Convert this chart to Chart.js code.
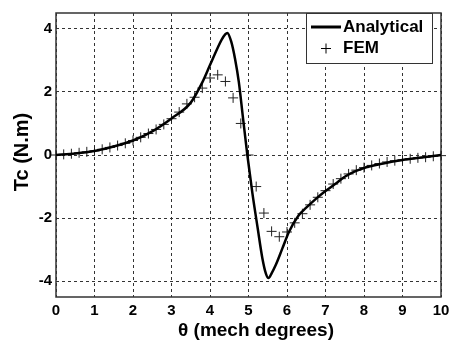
<!DOCTYPE html>
<html>
<head>
<meta charset="utf-8">
<script src="https://cdn.jsdelivr.net/npm/chart.js@4/dist/chart.umd.min.js"></script>
<style>
  html, body { margin: 0; padding: 0; background: #fff; }
  #wrap { width: 456px; height: 346px; }
</style>
</head>
<body>
<div id="wrap"><canvas id="torque" width="456" height="346"></canvas></div>
<script>
// analytical cogging torque curve
const analyticalX = [0, 0.5, 1.0, 1.5, 2.0, 2.5, 3.0, 3.5, 3.8, 4.0, 4.2, 4.3, 4.4, 4.45, 4.55, 4.65, 4.75, 4.85, 4.97,
                     5.1, 5.24, 5.36, 5.45, 5.52, 5.6, 5.71, 5.88, 6.05, 6.3, 6.5, 6.75, 7.0, 7.25, 7.5, 7.75, 8.0, 8.5, 9.0, 9.5, 10];
const analyticalY = [0, 0.05, 0.13, 0.27, 0.46, 0.75, 1.16, 1.66, 2.3, 2.85, 3.4, 3.65, 3.83, 3.87, 3.6, 3.05, 2.3, 1.25, 0,
                     -1.2, -2.33, -3.27, -3.75, -3.9, -3.75, -3.48, -2.96, -2.44, -1.92, -1.67, -1.39, -1.14, -0.92, -0.69, -0.53, -0.41, -0.27, -0.16, -0.08, 0];

// FEM samples
const femX = [0, 0.2, 0.4, 0.6, 0.8, 1.0, 1.2, 1.4, 1.6, 1.8, 2.0, 2.2, 2.4, 2.6, 2.8, 3.0, 3.2, 3.4, 3.6, 3.8,
              4.0, 4.2, 4.4, 4.6, 4.8, 5.0, 5.2, 5.4, 5.6, 5.8, 6.0, 6.2, 6.4, 6.6, 6.8, 7.0, 7.2, 7.4, 7.6, 7.8,
              8.0, 8.2, 8.4, 8.6, 8.8, 9.0, 9.2, 9.4, 9.6, 9.8, 10.0];
const femY = [0, 0.02, 0.04, 0.07, 0.1, 0.13, 0.18, 0.24, 0.3, 0.37, 0.46, 0.56, 0.68, 0.81, 0.97, 1.15, 1.36, 1.62, 1.83, 2.12,
              2.44, 2.54, 2.33, 1.81, 1.0, 0.0, -1.0, -1.84, -2.42, -2.59, -2.44, -2.15, -1.86, -1.58, -1.34, -1.13, -0.92, -0.75, -0.6, -0.48,
              -0.4, -0.33, -0.27, -0.22, -0.18, -0.15, -0.12, -0.09, -0.07, -0.04, -0.02];

const xTicks = [0, 1, 2, 3, 4, 5, 6, 7, 8, 9, 10];
const yTicks = [-4, -2, 0, 2, 4];

const FONT = "'Liberation Sans', Arial, sans-serif";

const framePlugin = {
    id: "frame",
    beforeDatasetsDraw(chart) {
        const { ctx, chartArea: a } = chart;
        ctx.save();
        ctx.strokeStyle = "#333";
        ctx.lineWidth = 1.5;
        ctx.strokeRect(a.left, a.top, a.right - a.left, a.bottom - a.top);
        ctx.restore();
    },
    afterDraw(chart) {
        const ctx = chart.ctx;
        ctx.save();
        ctx.fillStyle = "#000";
        // axis titles
        ctx.font = "bold 19px " + FONT;
        ctx.textAlign = "center";
        ctx.textBaseline = "middle";
        ctx.fillText("\u03b8 (mech degrees)", 256, 331);
        ctx.translate(22, 152);
        ctx.rotate(-Math.PI / 2);
        ctx.font = "bold 20px " + FONT;
        ctx.fillText("Tc (N.m)", 0, 0);
        ctx.restore();

        // legend box
        ctx.save();
        ctx.fillStyle = "#fff";
        ctx.fillRect(306, 13, 126, 50);
        ctx.strokeStyle = "#333";
        ctx.lineWidth = 1;
        ctx.strokeRect(306.5, 13.5, 126, 50);
        ctx.strokeStyle = "#000";
        ctx.lineWidth = 3;
        ctx.beginPath();
        ctx.moveTo(311, 27);
        ctx.lineTo(341, 27);
        ctx.stroke();
        ctx.lineWidth = 1;
        ctx.beginPath();
        ctx.moveTo(321, 48.5); ctx.lineTo(331, 48.5);
        ctx.moveTo(326, 43.5); ctx.lineTo(326, 53.5);
        ctx.stroke();
        ctx.fillStyle = "#000";
        ctx.font = "bold 17px " + FONT;
        ctx.textAlign = "left";
        ctx.textBaseline = "middle";
        ctx.fillText("Analytical", 343, 27);
        ctx.fillText("FEM", 343, 48);
        ctx.restore();
    }
};

const chart = new Chart(document.getElementById("torque").getContext("2d"), {
    type: "scatter",
    data: {
        datasets: [
            {
                label: "Analytical",
                data: analyticalX.map((x, i) => ({ x, y: analyticalY[i] })),
                showLine: true,
                borderColor: "#000",
                borderWidth: 2.5,
                pointRadius: 0,
                cubicInterpolationMode: "monotone",
                order: 1
            },
            {
                label: "FEM",
                data: femX.map((x, i) => ({ x, y: femY[i] })),
                showLine: false,
                pointStyle: "cross",
                pointRadius: 5,
                borderColor: "#222",
                borderWidth: 1,
                clip: false,
                order: 2
            }
        ]
    },
    options: {
        responsive: false,
        animation: false,
        devicePixelRatio: 1,
        layout: { padding: { top: 8, right: 15, left: 0, bottom: 0 } },
        plugins: { legend: { display: false }, tooltip: { enabled: false } },
        scales: {
            x: {
                type: "linear",
                min: 0,
                max: 10,
                afterBuildTicks: s => { s.ticks = xTicks.map(v => ({ value: v })); },
                afterFit: s => { s.height = 49; },
                grid: { color: "#333", lineWidth: 1, drawTicks: false },
                border: { display: false, dash: [3, 3] },
                ticks: { padding: 5, color: "#000", font: { family: FONT, size: 15, weight: "bold" }, maxRotation: 0 }
            },
            y: {
                type: "linear",
                min: -4.5,
                max: 4.5,
                afterBuildTicks: s => { s.ticks = yTicks.map(v => ({ value: v })); },
                afterFit: s => { s.width = 56; },
                grid: { color: "#333", lineWidth: 1, drawTicks: false },
                border: { display: false, dash: [3, 3] },
                ticks: { padding: 4, color: "#000", font: { family: FONT, size: 15, weight: "bold" } }
            }
        }
    },
    plugins: [framePlugin]
});
</script>
</body>
</html>
